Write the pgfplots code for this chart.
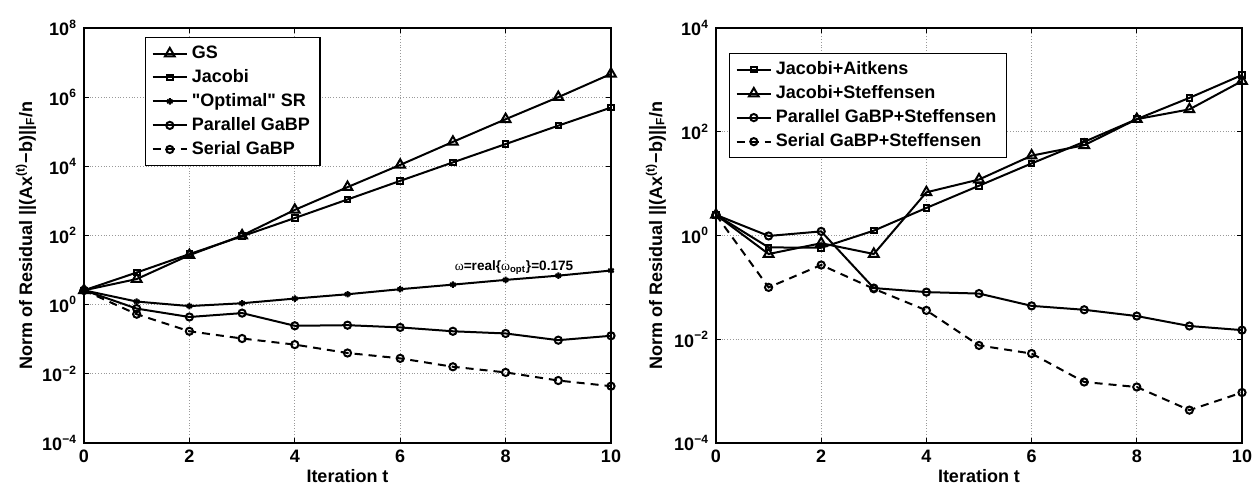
\documentclass[border=0pt]{standalone}
\usepackage{fontspec}
\setmainfont{Liberation Sans}
\newfontfamily\greekserif{Liberation Serif}
\usepackage{pgfplots}
\pgfplotsset{compat=1.18}
\tikzset{
 tri/.style={mark=triangle, mark size=2.8pt, mark options={solid}},
 sq/.style={mark=square, mark size=1.4pt, mark options={solid}},
 circ/.style={mark=o, mark size=1.8pt, mark options={solid}},
 ast/.style={mark=asterisk, mark size=1.6pt, mark options={solid}},
 dsh/.style={dash pattern=on 4pt off 3pt},
}
\begin{document}
\begin{tikzpicture}
\path[use as bounding box] (0pt,0pt) rectangle (627.5pt,243.5pt);
\begin{axis}[at={(42pt,22pt)}, anchor=south west,
  scale only axis, width=263.5pt, height=207.5pt,
  ymode=log, log basis y=10,
  xmin=0, xmax=10, xtick={0,2,...,10}, xticklabels={0,2,4,6,8,10}, clip=false,
  grid=major, major grid style={densely dotted, gray!80, line width=0.4pt},
  tick align=inside, major tick length=2.5pt, minor tick length=0pt,
  xtick pos=both, ytick pos=both,
  axis line style={line width=0.8pt},
  tick style={line width=0.6pt, black},
  tick label style={font=\bfseries\fontsize{9}{10}\selectfont},
  label style={font=\bfseries\fontsize{9}{10}\selectfont},
  xlabel={Iteration t},
  xlabel style={at={(axis description cs:0.5,0)}, anchor=center, yshift=-16.5pt},
  ylabel={Norm of Residual ||(Ax\textsuperscript{(t)}−b)||\textsubscript{F}/n},
  every axis plot/.append style={line width=1pt, black},
  legend cell align=left,
  legend style={font=\bfseries\fontsize{9}{10}\selectfont, draw=black, line width=0.6pt, at={(0.116,0.978)}, anchor=north west},
  ymin=1e-4, ymax=1e8,
  ytick={1e-4,1e-2,1,1e2,1e4,1e6,1e8},
  yticklabels={10\textsuperscript{−4},10\textsuperscript{−2},10\textsuperscript{0},10\textsuperscript{2},10\textsuperscript{4},10\textsuperscript{6},10\textsuperscript{8}},
  ylabel style={at={(axis description cs:-0.110,0.5)}, anchor=center},
]
\addplot[tri] coordinates {(0,2.6)(1,5.5)(2,27)(3,100)(4,550)(5,2500)(6,11000)(7,51000)(8,230000)(9,1.0e6)(10,4.7e6)};
\addlegendentry{GS}
\addplot[sq] coordinates {(0,2.6)(1,8.5)(2,29)(3,95)(4,320)(5,1100)(6,3800)(7,13000)(8,44000)(9,150000)(10,5.0e5)};
\addlegendentry{Jacobi}
\addplot[ast] coordinates {(0,2.6)(1,1.23)(2,0.91)(3,1.1)(4,1.5)(5,2.0)(6,2.8)(7,3.8)(8,5.2)(9,6.9)(10,9.7)};
\addlegendentry{\textquotedbl Optimal\textquotedbl{} SR}
\addplot[circ] coordinates {(0,2.6)(1,0.77)(2,0.44)(3,0.57)(4,0.245)(5,0.255)(6,0.22)(7,0.17)(8,0.147)(9,0.094)(10,0.126)};
\addlegendentry{Parallel GaBP}
\addplot[circ, dsh] coordinates {(0,2.6)(1,0.53)(2,0.17)(3,0.105)(4,0.07)(5,0.04)(6,0.028)(7,0.016)(8,0.011)(9,0.0064)(10,0.0044)};
\addlegendentry{Serial GaBP}
\node[font=\bfseries\fontsize{6.8}{8}\selectfont, inner sep=0pt] at (axis cs:8.16,11.5) {{\greekserif\mdseries ω}=real\{{\greekserif\mdseries ω}\textsubscript{opt}\}=0.175};
\end{axis}
\begin{axis}[at={(358pt,22pt)}, anchor=south west,
  scale only axis, width=263pt, height=207.5pt,
  ymode=log, log basis y=10,
  xmin=0, xmax=10, xtick={0,2,...,10}, xticklabels={0,2,4,6,8,10}, clip=false,
  grid=major, major grid style={densely dotted, gray!80, line width=0.4pt},
  tick align=inside, major tick length=2.5pt, minor tick length=0pt,
  xtick pos=both, ytick pos=both,
  axis line style={line width=0.8pt},
  tick style={line width=0.6pt, black},
  tick label style={font=\bfseries\fontsize{9}{10}\selectfont},
  label style={font=\bfseries\fontsize{9}{10}\selectfont},
  xlabel={Iteration t},
  xlabel style={at={(axis description cs:0.5,0)}, anchor=center, yshift=-16.5pt},
  ylabel={Norm of Residual ||(Ax\textsuperscript{(t)}−b)||\textsubscript{F}/n},
  every axis plot/.append style={line width=1pt, black},
  legend cell align=left,
  legend style={font=\bfseries\fontsize{9}{10}\selectfont, draw=black, line width=0.6pt, at={(0.025,0.94)}, anchor=north west},
  ymin=1e-4, ymax=1e4,
  ytick={1e-4,1e-2,1,1e2,1e4},
  yticklabels={10\textsuperscript{−4},10\textsuperscript{−2},10\textsuperscript{0},10\textsuperscript{2},10\textsuperscript{4}},
  ylabel style={at={(axis description cs:-0.114,0.5)}, anchor=center},
]
\addplot[sq] coordinates {(0,2.5)(1,0.59)(2,0.58)(3,1.24)(4,3.4)(5,9.1)(6,24.5)(7,64)(8,175)(9,450)(10,1240)};
\addlegendentry{Jacobi+Aitkens}
\addplot[tri] coordinates {(0,2.5)(1,0.44)(2,0.71)(3,0.44)(4,6.8)(5,12)(6,34.6)(7,55)(8,175)(9,270)(10,950)};
\addlegendentry{Jacobi+Steffensen}
\addplot[circ] coordinates {(0,2.5)(1,0.98)(2,1.2)(3,0.097)(4,0.081)(5,0.076)(6,0.044)(7,0.037)(8,0.028)(9,0.018)(10,0.015)};
\addlegendentry{Parallel GaBP+Steffensen}
\addplot[circ, dsh] coordinates {(0,2.5)(1,0.1)(2,0.27)(3,0.094)(4,0.036)(5,0.0076)(6,0.0053)(7,0.0015)(8,0.0012)(9,0.00043)(10,0.00094)};
\addlegendentry{Serial GaBP+Steffensen}
\end{axis}
\end{tikzpicture}
\end{document}
